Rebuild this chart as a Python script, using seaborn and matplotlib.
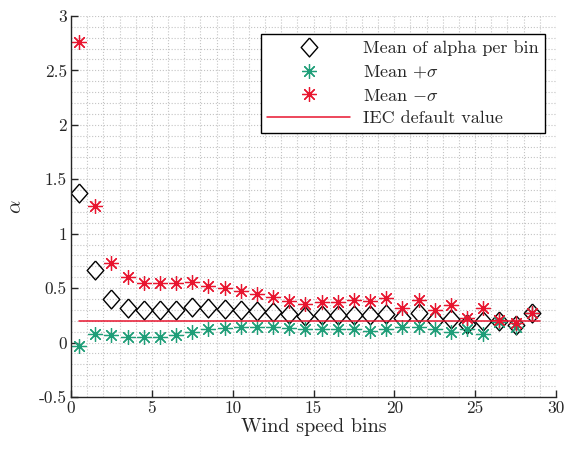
import matplotlib
matplotlib.use("Agg")
import matplotlib.pyplot as plt
from matplotlib.ticker import MultipleLocator, FormatStrFormatter
import seaborn as sns

# wind speed bin centres
bins = [0.5, 1.5, 2.5, 3.5, 4.5, 5.5, 6.5, 7.5, 8.5, 9.5,
        10.5, 11.5, 12.5, 13.5, 14.5, 15.5, 16.5, 17.5, 18.5, 19.5,
        20.5, 21.5, 22.5, 23.5, 24.5, 25.5, 26.5, 27.5, 28.5]

# mean of alpha per bin
alpha_mean = [1.37, 0.67, 0.40, 0.32, 0.30, 0.30, 0.30, 0.33, 0.32, 0.31,
              0.30, 0.29, 0.28, 0.26, 0.24, 0.25, 0.25, 0.25, 0.25, 0.26,
              0.23, 0.27, 0.21, 0.22, 0.17, 0.20, 0.20, 0.16, 0.27]

# mean + sigma (green) and mean - sigma (red), labelled as in the source
alpha_plus = [-0.03, 0.08, 0.07, 0.05, 0.05, 0.055, 0.07, 0.10, 0.12, 0.13,
              0.14, 0.14, 0.14, 0.13, 0.12, 0.12, 0.12, 0.12, 0.11, 0.12,
              0.14, 0.14, 0.12, 0.10, 0.12, 0.08, 0.19, 0.14, 0.27]
alpha_minus = [2.76, 1.25, 0.73, 0.60, 0.545, 0.545, 0.545, 0.56, 0.52, 0.50,
               0.47, 0.45, 0.42, 0.385, 0.355, 0.37, 0.37, 0.39, 0.385, 0.41,
               0.32, 0.39, 0.30, 0.345, 0.23, 0.315, 0.21, 0.18, 0.275]

iec_x = [0.5, 29]
iec_y = [0.2, 0.2]

green = "#1f9e78"
red = "#e8152f"

sns.set_style("white")
plt.rcParams["font.family"] = ["cmr10", "DejaVu Serif"]
plt.rcParams["mathtext.fontset"] = "cm"
plt.rcParams["axes.unicode_minus"] = False
plt.rcParams["axes.formatter.use_mathtext"] = False

fig = plt.figure(figsize=(5.7, 4.55), dpi=100)
ax = fig.add_axes([0.1246, 0.1275, 0.8508, 0.8375])

# slightly tall diamond, like the MATLAB one
diamond = [(0, 1), (0.88, 0), (0, -1), (-0.88, 0), (0, 1)]
ast = (8, 2, 0)

sns.lineplot(x=bins, y=alpha_mean, ax=ax, marker=diamond, linestyle="", ms=13.6,
             mfc="none", mec="black", mew=1.0, color="black",
             label="Mean of alpha per bin")
sns.lineplot(x=bins, y=alpha_plus, ax=ax, marker=ast, linestyle="", ms=10.5,
             mec=green, mew=0.9, color=green, label=r"Mean $+\sigma$")
sns.lineplot(x=bins, y=alpha_minus, ax=ax, marker=ast, linestyle="", ms=10.5,
             mec=red, mew=0.9, color=red, label=r"Mean $-\sigma$")
sns.lineplot(x=iec_x, y=iec_y, ax=ax, color=red, lw=1.1,
             label="IEC default value")

ax.set_xlim(0, 30)
ax.set_ylim(-0.5, 3)
ax.xaxis.set_major_locator(MultipleLocator(5))
ax.xaxis.set_minor_locator(MultipleLocator(1))
ax.yaxis.set_major_locator(MultipleLocator(0.5))
ax.yaxis.set_minor_locator(MultipleLocator(0.1))
ax.yaxis.set_major_formatter(FormatStrFormatter("%g"))
ax.xaxis.set_major_formatter(FormatStrFormatter("%g"))

ax.grid(True, which="both", color="#c4c4c4", linestyle=":", linewidth=0.8)
ax.set_axisbelow(True)

for s in ["top", "right"]:
    ax.spines[s].set_visible(False)
for s in ["left", "bottom"]:
    ax.spines[s].set_color("#262626")
    ax.spines[s].set_linewidth(1.0)

ax.tick_params(which="major", direction="in", length=5, width=1.0,
               colors="#262626", labelsize=12.5, bottom=True, left=True, pad=3)
ax.tick_params(which="minor", length=0)

ax.set_xlabel("Wind speed bins", fontsize=14.5, color="#262626", labelpad=1)
ax.set_ylabel(r"$\alpha$", fontsize=15, color="#262626", labelpad=10)

leg = ax.legend(loc="upper right", bbox_to_anchor=(0.977, 0.952), fontsize=13,
                frameon=True, fancybox=False, edgecolor="black",
                handlelength=4.6, borderpad=0.35, labelspacing=0.4,
                handletextpad=0.7, borderaxespad=0)
leg.get_frame().set_linewidth(1.0)
leg.get_frame().set_alpha(1)

fig.savefig("out.png", dpi=100)
